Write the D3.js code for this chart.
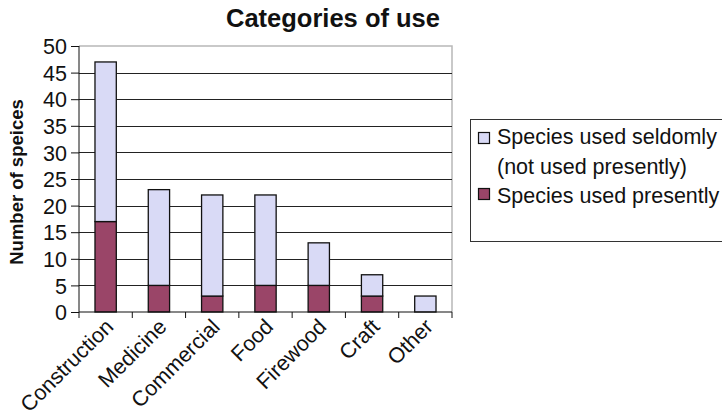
<!DOCTYPE html>
<html>
<head>
<meta charset="utf-8">
<script src="https://cdn.jsdelivr.net/npm/d3@7"></script>
<style>
  html, body { margin: 0; padding: 0; background: #fff; }
  svg { display: block; font-family: "Liberation Sans", Arial, sans-serif; }
</style>
</head>
<body>
<svg id="chart" width="722" height="419"></svg>
<script>
// Categories of plant use and species counts
const categories = ["Construction", "Medicine", "Commercial", "Food", "Firewood", "Craft", "Other"];
const usedPresently = [17, 5, 3, 5, 5, 3, 0];
const usedSeldomly = [30, 18, 19, 17, 8, 4, 3];
const yTicks = [0, 5, 10, 15, 20, 25, 30, 35, 40, 45, 50];
const legendLines = [["Species used seldomly", "(not used presently)"], ["Species used presently"]];

const colors = { presently: "#9a4568", seldomly: "#d9daf6" };

const svg = d3.select("#chart");
const plot = { left: 79, right: 452, top: 46, bottom: 312 };

const x = d3.scaleBand().domain(categories).range([plot.left, plot.right]).paddingInner(0.6).paddingOuter(0.3);
const xBand = d3.scaleBand().domain(categories).range([plot.left, plot.right]);
const y = d3.scaleLinear().domain([0, 50]).range([plot.bottom, plot.top]);

// Plot frame (top and right edges)
svg.append("path")
  .attr("d", `M${plot.left},${plot.top}H${plot.right}V${plot.bottom}`)
  .attr("fill", "none").attr("stroke", "#b8b8b8").attr("stroke-width", 1.5);

// Horizontal gridlines
svg.append("g").selectAll("line")
  .data(yTicks.filter(d => d > 0 && d < 50))
  .join("line")
  .attr("x1", plot.left).attr("x2", plot.right)
  .attr("y1", d => Math.round(y(d)) + 0.5).attr("y2", d => Math.round(y(d)) + 0.5)
  .attr("stroke", "#222").attr("stroke-width", 1);

// Stacked bars
const rows = categories.map((c, i) => ({ cat: c, presently: usedPresently[i], seldomly: usedSeldomly[i] }));
const stack = d3.stack().keys(["presently", "seldomly"])(rows);
svg.append("g").selectAll("g")
  .data(stack)
  .join("g")
  .attr("fill", d => colors[d.key])
  .selectAll("rect")
  .data(d => d.filter(p => p[1] - p[0] > 0))
  .join("rect")
  .attr("x", d => x(d.data.cat))
  .attr("width", x.bandwidth())
  .attr("y", d => y(d[1]))
  .attr("height", d => y(d[0]) - y(d[1]))
  .attr("stroke", "#111").attr("stroke-width", 1.3);

// Y axis
const yAxis = d3.axisLeft(y).tickValues(yTicks).tickSize(8).tickPadding(4);
const gy = svg.append("g").attr("transform", `translate(${plot.left},0)`).call(yAxis);
gy.select(".domain").attr("stroke", "#111").attr("d", `M-0,${plot.top}V${plot.bottom}`);
gy.selectAll(".tick line").attr("stroke", "#111");
gy.selectAll(".tick text").attr("font-size", 21.5).attr("fill", "#111").attr("dy", "0.36em");

// X axis with ticks between categories
const gx = svg.append("g").attr("transform", `translate(0,${plot.bottom})`);
gx.append("line").attr("x1", plot.left).attr("x2", plot.right).attr("stroke", "#111").attr("stroke-width", 1.2);
gx.selectAll("line.tk")
  .data(categories.map(c => xBand(c)).concat([plot.right]))
  .join("line").attr("class", "tk")
  .attr("x1", d => d).attr("x2", d => d).attr("y1", 0).attr("y2", 6)
  .attr("stroke", "#111");
gx.selectAll("text")
  .data(categories)
  .join("text")
  .attr("transform", d => `translate(${xBand(d) + xBand.bandwidth() / 2 + 9},16) rotate(-45)`)
  .attr("text-anchor", "end")
  .attr("font-size", 21.5).attr("fill", "#111")
  .text(d => d);

// Title
svg.append("text")
  .attr("x", 333).attr("y", 27)
  .attr("text-anchor", "middle")
  .attr("font-size", 25.5).attr("font-weight", "bold").attr("fill", "#111")
  .text("Categories of use");

// Y axis title
svg.append("text")
  .attr("transform", "translate(23,182) rotate(-90)")
  .attr("text-anchor", "middle")
  .attr("font-size", 18.5).attr("font-weight", "bold").attr("fill", "#111")
  .text("Number of speices");

// Legend
const lg = svg.append("g");
lg.append("rect").attr("x", 470.5).attr("y", 119.5).attr("width", 260).attr("height", 122)
  .attr("fill", "#fff").attr("stroke", "#333").attr("stroke-width", 1);
const legendItems = [
  { color: colors.seldomly, lines: legendLines[0], y: 144, sy: 132 },
  { color: colors.presently, lines: legendLines[1], y: 203, sy: 188 }
];
legendItems.forEach(it => {
  lg.append("rect").attr("x", 478.5).attr("y", it.sy + 0.5).attr("width", 11).attr("height", 11)
    .attr("fill", it.color).attr("stroke", "#111").attr("stroke-width", 1.2);
  it.lines.forEach((t, j) => {
    lg.append("text").attr("x", 497).attr("y", it.y + j * 30)
      .attr("font-size", 21.5).attr("fill", "#111").text(t);
  });
});
</script>
</body>
</html>
